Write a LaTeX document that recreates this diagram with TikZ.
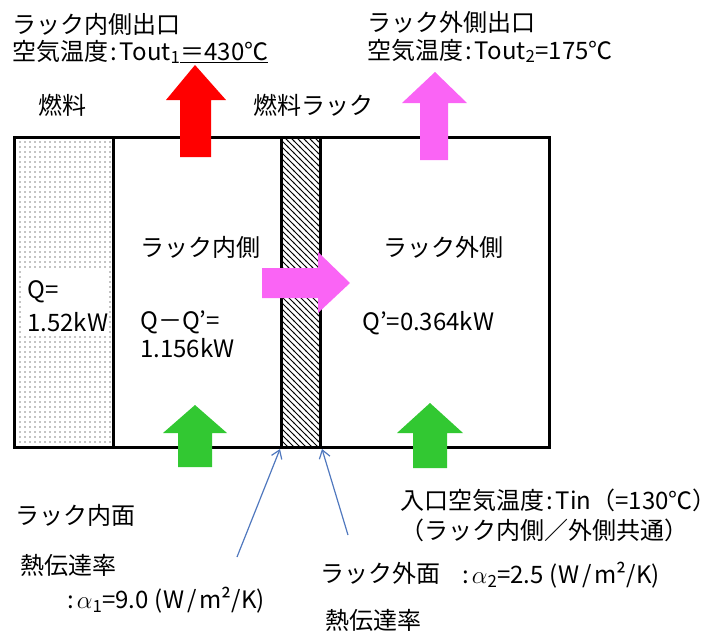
\documentclass[tikz,border=0pt]{standalone}
\usepackage{fontspec}
\setmainfont{Noto Sans CJK JP}
\usetikzlibrary{patterns.meta,arrows.meta}
\definecolor{flowred}{RGB}{255,0,0}
\definecolor{flowpink}{RGB}{250,100,245}
\definecolor{flowgreen}{RGB}{50,200,50}
\definecolor{leadblue}{RGB}{80,120,190}
\newcommand\sep{\kern2pt:\kern3pt}
\tikzdeclarepattern{
  name=fueldots,
  type=uncolored,
  bounding box={(0pt,0pt) and (4.5pt,4.5pt)},
  tile size={(4.5pt,4.5pt)},
  code={\fill (2.25pt,2.25pt) circle (0.7pt);}
}
\tikzdeclarepattern{
  name=rackhatch,
  type=uncolored,
  bounding box={(-1pt,-1pt) and (7pt,7pt)},
  tile size={(6pt,6pt)},
  code={\draw[line width=0.8pt] (-1pt,7pt) -- (7pt,-1pt);}
}
\tikzset{
  lbl/.style={anchor=west,inner sep=0pt,font=\fontsize{24}{26}\selectfont},
  wall/.style={line width=3pt},
  lead/.style={leadblue,line width=1.2pt,-{Straight Barb[length=8pt,width=11pt]}},
}
\begin{document}
\begin{tikzpicture}[x=1pt,y=-1pt]
\useasboundingbox (0,0) rectangle (716,633);
% fuel and rack wall
\fill[pattern=fueldots] (14,137) rectangle (113,447);
\fill[white] (24,268) rectangle (106,334);
\fill[pattern=rackhatch] (281,137) rectangle (320,447);
\draw[wall] (14,137) rectangle (549,447);
\draw[wall] (113,137) -- (113,447);
\draw[wall] (281,137) -- (281,447);
\draw[wall] (320,137) -- (320,447);
% air and heat flows
\fill[flowred] (180,157) -- (180,100) -- (166,100) -- (195,65) -- (226,100) -- (211,100) -- (211,157) -- cycle;
\fill[flowpink] (420,160) -- (420,103) -- (402,103) -- (435,72) -- (467,103) -- (448,103) -- (448,160) -- cycle;
\fill[flowpink] (262,268) -- (318,268) -- (318,252) -- (350,283) -- (318,313) -- (318,298) -- (262,298) -- cycle;
\fill[flowgreen] (178,467) -- (178,433) -- (163,433) -- (195,405) -- (227,433) -- (212,433) -- (212,467) -- cycle;
\fill[flowgreen] (413,468) -- (413,433) -- (397,433) -- (430,403) -- (463,433) -- (447,433) -- (447,468) -- cycle;
% labels
\node[lbl] (outInTitle) at (12,24) {ラック内側出口};
\node[lbl] (outInTemp) at (12,52) {空気温度\sep Tout\textsubscript{1}\underline{＝430℃}};
\node[lbl] (outExTitle) at (367,22) {ラック外側出口};
\node[lbl] (outExTemp) at (367,51) {空気温度\sep Tout\textsubscript{2}=175℃};
\node[lbl] (fuelLbl) at (38,105) {燃料};
\node[lbl] (rackLbl) at (253,105) {燃料ラック};
\node[lbl] (innerLbl) at (140,247) {ラック内側};
\node[lbl] (heatQ) at (27,292) {Q=};
\node[lbl] (heatQv) at (27,322) {1.52kW};
\node[lbl] (innerQ) at (140,322) {Q－Q’=};
\node[lbl] (innerQv) at (140,348) {1.156kW};
\node[lbl] (outerLbl) at (383,247) {ラック外側};
\node[lbl] (outerQ) at (362,323) {Q’=0.364kW};
\node[lbl] (inletT) at (400,500) {入口空気温度\sep Tin（=130℃）};
\node[lbl] (inletNote) at (400,530) {（ラック内側／外側共通）};
\node[lbl] (alphaIn) at (15,515) {ラック内面};
\node[lbl] (alphaInB) at (20,565) {熱伝達率};
\node[lbl] (alphaInV) at (65,600) {\sep$\alpha$\textsubscript{1}=9.0\kern6pt(W\kern3pt/\kern3pt m²/K)};
\node[lbl] (alphaEx) at (320,573) {ラック外面};
\node[lbl] (alphaExB) at (325,620) {熱伝達率};
\node[lbl] (alphaExV) at (460,575) {\sep$\alpha$\textsubscript{2}=2.5\kern6pt(W\kern3pt/\kern3pt m²/K)};
% leaders to the rack faces
\coordinate (leadIn) at (237,557);
\coordinate (faceIn) at (280,449);
\coordinate (leadEx) at (348,535);
\coordinate (faceEx) at (322,449);
\draw[lead] (leadIn) -- (faceIn);
\draw[lead] (leadEx) -- (faceEx);
\end{tikzpicture}
\end{document}
